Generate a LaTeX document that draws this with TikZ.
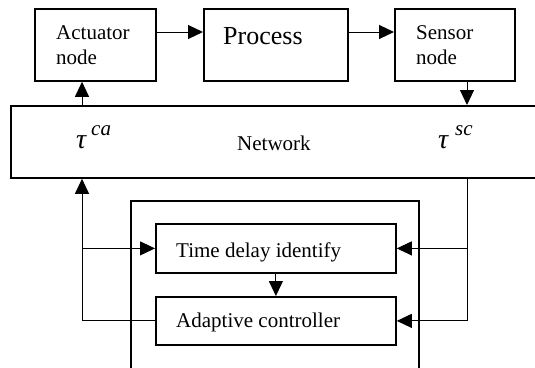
\documentclass[tikz,border=0pt]{standalone}
\usepackage{fontspec}
\setmainfont{Liberation Serif}
\usetikzlibrary{arrows.meta}
\begin{document}
\begin{tikzpicture}[x=1pt,y=-1pt,
  box/.style={draw, line width=1.8pt, inner sep=0pt, anchor=north west},
  conn/.style={line width=1pt, -{Triangle[length=15pt,width=14pt]}},
  frame/.style={line width=1.8pt},
  txt/.style={inner sep=0pt, anchor=base west, font=\fontsize{21}{24}\selectfont},
  taus/.style={inner sep=0pt, anchor=base west, font=\fontsize{28}{28}\selectfont\itshape},
  sups/.style={inner sep=0pt, anchor=base west, font=\fontsize{21}{21}\selectfont\itshape}
]
\useasboundingbox (0,0) rectangle (535,367);
% boxes
\node[box, minimum width=121pt, minimum height=72pt] (act) at (34,8) {};
\node[box, minimum width=144pt, minimum height=72pt] (proc) at (203,8) {};
\node[box, minimum width=120pt, minimum height=72pt] (sens) at (394,8) {};
\node[box, minimum width=530pt, minimum height=72pt] (net) at (10,105) {};
\node[box, minimum width=240pt, minimum height=49pt] (tdi) at (155,223) {};
\node[box, minimum width=240pt, minimum height=48pt] (ac) at (155,296) {};
% outer open frame
\draw[frame] (131,368) -- (131,201) -- (419,201) -- (419,368);
% texts
\node[txt] (t1) at (56,39) {Actuator};
\node[txt] (t2) at (56,64) {node};
\node[txt, font=\fontsize{26}{28}\selectfont] (t3) at (223,44) {Process};
\node[txt] (t4) at (416,39) {Sensor};
\node[txt] (t5) at (416,64) {node};
\node[txt] (t6) at (237,150) {Network};
\node[taus] (tauA) at (76,148) {τ};
\node[sups] (supA) at (91,135) {ca};
\node[taus] (tauS) at (438,148) {τ};
\node[sups] (supS) at (455,135) {sc};
\node[txt] (t9) at (176,257) {Time delay identify};
\node[txt] (t10) at (176,327) {Adaptive controller};
% connectors
\coordinate (L) at (82,0);
\coordinate (R) at (467,0);
\draw[conn] ([yshift=-24pt]act.north east) -- ([yshift=-24pt]proc.north west);
\draw[conn] ([yshift=-24pt]proc.north east) -- ([yshift=-24pt]sens.north west);
\draw[conn] (L |- net.north) -- (L |- act.south);
\draw[conn] (R |- sens.south) -- (R |- net.north);
\draw[conn] (ac.west) -| (L |- net.south);
\draw[conn] (L |- tdi.west) -- (tdi.west);
\draw[conn] (R |- net.south) |- (ac.east);
\draw[conn] (R |- tdi.east) -- (tdi.east);
\draw[conn] (tdi.south) -- (ac.north);
\end{tikzpicture}
\end{document}
